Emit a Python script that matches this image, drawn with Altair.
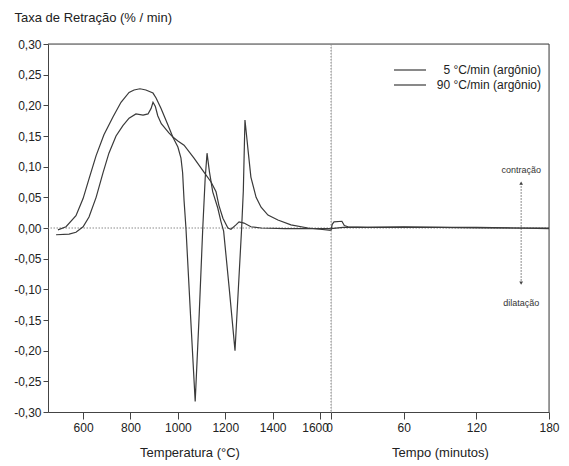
import altair as alt
import pandas as pd

FONT = "Liberation Sans"
INK = "#3a3a3a"

# ---- data ----
serie_nomes = ["5 °C/min (argônio)", "90 °C/min (argônio)"]

# heating segment: temperature (°C) vs rate (%/min)
temp_a = [494, 528, 570, 600, 625, 655, 688, 726, 760, 794, 815, 840, 865, 895, 908,
          929, 958, 979, 1000, 1013, 1020, 1026, 1034, 1053, 1073, 1090, 1105, 1115,
          1123, 1133, 1147, 1168, 1182, 1193, 1217, 1241, 1255, 1269, 1276, 1283, 1290,
          1296, 1308, 1330, 1351, 1380, 1422, 1477, 1549, 1600, 1646]
taxa_a = [-0.003, 0.002, 0.020, 0.048, 0.080, 0.118, 0.152, 0.181, 0.205, 0.221, 0.225,
          0.227, 0.225, 0.220, 0.212, 0.195, 0.168, 0.148, 0.132, 0.114, 0.090, 0.045,
          0.000, -0.140, -0.283, -0.140, 0.000, 0.080, 0.122, 0.092, 0.059, 0.033, 0.010,
          -0.005, -0.100, -0.200, -0.100, 0.000, 0.060, 0.176, 0.150, 0.127, 0.083, 0.050,
          0.034, 0.021, 0.013, 0.005, 0.000, -0.002, -0.004]

temp_b = [486, 541, 570, 600, 625, 655, 684, 709, 739, 768, 794, 823, 853, 874, 887,
          895, 905, 915, 930, 962, 980, 1000, 1026, 1068, 1110, 1140, 1161, 1173, 1190,
          1211, 1224, 1245, 1258, 1279, 1308, 1351, 1450, 1550, 1646]
taxa_b = [-0.011, -0.010, -0.007, 0.002, 0.018, 0.050, 0.090, 0.122, 0.150, 0.167,
          0.179, 0.186, 0.184, 0.186, 0.195, 0.205, 0.198, 0.183, 0.170, 0.155, 0.148,
          0.142, 0.135, 0.114, 0.091, 0.075, 0.059, 0.037, 0.016, 0.000, -0.002, 0.005,
          0.010, 0.008, 0.002, 0.000, -0.001, -0.001, -0.001]

# isothermal hold: time (min) vs rate (%/min)
tempo_a = [0, 1, 2.5, 9, 11, 14, 30, 60, 90, 120, 150, 180]
taxa_a_hold = [-0.004, 0.006, 0.010, 0.011, 0.004, 0.002, 0.001, 0.001, 0.001, 0.000, 0.000, -0.001]
tempo_b = [0, 10, 30, 60, 90, 120, 150, 180]
taxa_b_hold = [-0.001, 0.001, 0.001, 0.002, 0.001, 0.001, 0.000, 0.000]

y_ticks = [-0.30, -0.25, -0.20, -0.15, -0.10, -0.05, 0.00, 0.05, 0.10, 0.15, 0.20, 0.25, 0.30]
temp_ticks = [600, 800, 1000, 1200, 1400, 1600]
tempo_ticks = [0, 60, 120, 180]

annot_tempo = 157
annot_txt = ["contração", "dilatação"]
annot_txt_y = [0.094, -0.122]
arrow_y = [0.073, -0.090]
arrow_shape = ["triangle-up", "triangle-down"]

# ---- tables ----
df_temp = pd.concat([
    pd.DataFrame({"temp": temp_a, "taxa": taxa_a, "serie": serie_nomes[0]}),
    pd.DataFrame({"temp": temp_b, "taxa": taxa_b, "serie": serie_nomes[1]}),
])
df_hold = pd.concat([
    pd.DataFrame({"tempo": tempo_a, "taxa": taxa_a_hold, "serie": serie_nomes[0]}),
    pd.DataFrame({"tempo": tempo_b, "taxa": taxa_b_hold, "serie": serie_nomes[1]}),
])

yscale = alt.Scale(domain=[-0.30, 0.30], nice=False, zero=False)
PLOT_H = 368
W_LEFT = 283
W_RIGHT = 218

common_x_axis = dict(grid=False, tickSize=7, labelPadding=3, titlePadding=13,
                     labelFontSize=12, titleFontSize=13, labelFont=FONT, titleFont=FONT,
                     titleFontWeight="normal", labelColor="#222", titleColor="#222",
                     domainColor="#444", tickColor="#444", labelFlush=False,
                     labelOverlap=False, format="d")

# ---- left panel: temperature ----
xl_scale = alt.Scale(domain=[452, 1646], nice=False, zero=False)
axis_l = alt.Axis(values=temp_ticks, title="Temperatura (°C)",
                  labelOffset={"condition": {"test": "datum.value == 1600", "value": -5}, "value": 0},
                  **common_x_axis)
axis_y = alt.Axis(values=y_ticks, format=".2f",
                  labelExpr="replace(replace(datum.label, '.', ','), '\u2212', '-')",
                  title="Taxa de Retração (% / min)", titleAngle=0, titleAlign="left",
                  titleBaseline="middle", titleX=-34, titleY=-27, grid=False,
                  tickSize=5, labelPadding=2, labelFontSize=12, titleFontSize=13,
                  labelFont=FONT, titleFont=FONT, titleFontWeight="normal",
                  labelColor="#222", titleColor="#222", domainColor="#444",
                  tickColor="#444", labelFlush=False, labelOverlap=False)
yl = alt.Y("taxa:Q", scale=yscale, axis=axis_y)

left_lines = alt.Chart(df_temp).mark_line(color=INK, strokeWidth=1.2).encode(
    x=alt.X("temp:Q", scale=xl_scale, axis=axis_l), y=yl, detail="serie:N")
left_zero = alt.Chart(pd.DataFrame({"taxa": [0.0]})).mark_rule(
    color="#8a8a8a", strokeDash=[1.5, 1.5], strokeWidth=1).encode(y=yl)
left_top = alt.Chart(pd.DataFrame({"taxa": [0.30]})).mark_rule(
    color="#444", strokeWidth=1).encode(y=yl)

left = alt.layer(left_zero, left_top, left_lines).properties(width=W_LEFT, height=PLOT_H)

# ---- right panel: time ----
xr_scale = alt.Scale(domain=[0, 180], nice=False, zero=False)
axis_r = alt.Axis(values=tempo_ticks, title="Tempo (minutos)",
                  labelOffset={"condition": {"test": "datum.value == 0", "value": -2}, "value": 0},
                  **common_x_axis)
xr = alt.X("tempo:Q", scale=xr_scale, axis=axis_r)
yr = alt.Y("taxa:Q", scale=yscale, axis=None)

right_lines = alt.Chart(df_hold).mark_line(color=INK, strokeWidth=1.2).encode(
    x=xr, y=yr, detail="serie:N")
right_zero = alt.Chart(pd.DataFrame({"taxa": [0.0]})).mark_rule(
    color="#8a8a8a", strokeDash=[1.5, 1.5], strokeWidth=1).encode(y=yr)
right_top = alt.Chart(pd.DataFrame({"taxa": [0.30]})).mark_rule(
    color="#444", strokeWidth=1).encode(y=yr)
right_div = alt.Chart(pd.DataFrame({"tempo": [0]})).mark_rule(
    color="#8a8a8a", strokeDash=[1.5, 1.5], strokeWidth=1).encode(x=xr)
right_edge = alt.Chart(pd.DataFrame({"tempo": [180]})).mark_rule(
    color="#444", strokeWidth=1).encode(x=xr)

# annotation: contração / dilatação
annot_line = alt.Chart(pd.DataFrame({"tempo": [annot_tempo], "taxa": [arrow_y[0]], "y2": [arrow_y[1]]})).mark_rule(
    color="#666", strokeDash=[1.5, 1.5], strokeWidth=1).encode(x=xr, y=yr, y2="y2:Q")
df_arrow = pd.DataFrame({"tempo": [annot_tempo] * 2, "taxa": arrow_y, "forma": arrow_shape})
annot_arrow = alt.Chart(df_arrow).mark_point(filled=True, color="#444", size=14, opacity=1).encode(
    x=xr, y=yr, shape=alt.Shape("forma:N", scale=None))
df_atxt = pd.DataFrame({"tempo": [annot_tempo] * 2, "taxa": annot_txt_y, "txt": annot_txt})
annot_text = alt.Chart(df_atxt).mark_text(font=FONT, fontSize=9, color="#333", baseline="middle").encode(
    x=xr, y=yr, text="txt:N")

# legend (manual, both series share the same ink)
leg_rows = [26, 41]
leg_marks = []
for nome, ly in zip(serie_nomes, leg_rows):
    leg_marks.append(alt.Chart(df_hold.head(1)).mark_rule(color=INK, strokeWidth=1.2).encode(
        x=alt.value(63), x2=alt.value(95), y=alt.value(ly)))
    leg_marks.append(alt.Chart(df_hold.head(1)).mark_text(
        font=FONT, fontSize=12, color="#222", align="right", baseline="middle", text=nome).encode(
        x=alt.value(210), y=alt.value(ly)))

right = alt.layer(right_zero, right_top, right_div, right_edge, annot_line, annot_arrow,
                  annot_text, right_lines, *leg_marks).properties(width=W_RIGHT, height=PLOT_H)

chart = alt.hconcat(left, right, spacing=0, bounds="flush").properties(
    padding={"left": 13, "top": 10, "right": 5, "bottom": 5}
).configure_view(stroke=None).configure(background="white")

chart.save("out.html", embed_options={"renderer": "svg", "actions": False})
